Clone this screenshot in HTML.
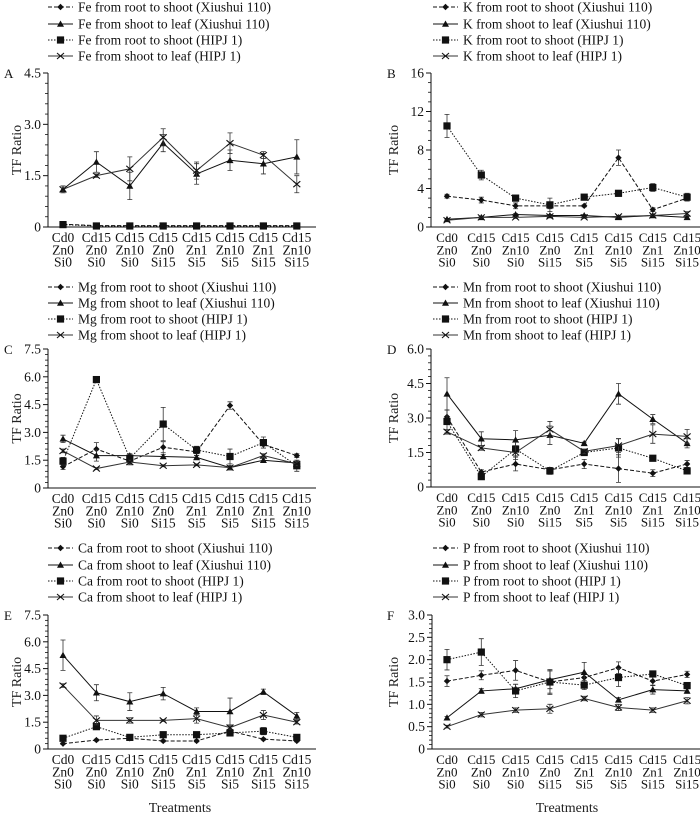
<!DOCTYPE html>
<html><head><meta charset="utf-8"><style>
body{margin:0;background:#fff;}
svg{display:block;font-family:"Liberation Serif",serif;}
</style></head><body>
<svg id="chart" width="700" height="816" viewBox="0 0 700 816"></svg>
<script>
const categories=[["Cd0","Zn0","Si0"],["Cd15","Zn0","Si0"],["Cd15","Zn10","Si0"],["Cd15","Zn0","Si15"],["Cd15","Zn1","Si5"],["Cd15","Zn10","Si5"],["Cd15","Zn1","Si15"],["Cd15","Zn10","Si15"]];
const elements=["Fe","K","Mg","Mn","Ca","P"];
const panelLetters=["A","B","C","D","E","F"];
const ticksA=[0,1.5,3.0,4.5], ticksB=[0,4,8,12,16], ticksC=[0,1.5,3.0,4.5,6.0,7.5], ticksD=[0,1.5,3.0,4.5,6.0], ticksE=[0,1.5,3.0,4.5,6.0,7.5], ticksF=[0,0.5,1.0,1.5,2.0,2.5,3.0];
const tickLabelsA=["0","1.5","3.0","4.5"], tickLabelsB=["0","4","8","12","16"], tickLabelsC=["0","1.5","3.0","4.5","6.0","7.5"], tickLabelsD=["0","1.5","3.0","4.5","6.0"], tickLabelsE=tickLabelsC, tickLabelsF=["0","0.5","1.0","1.5","2.0","2.5","3.0"];
// series: Xiushui root->shoot, Xiushui shoot->leaf, HIPJ root->shoot, HIPJ shoot->leaf
const feXr=[0.08,0.04,0.04,0.04,0.04,0.04,0.04,0.04], feXl=[1.1,1.9,1.2,2.45,1.55,1.95,1.85,2.05], feHr=[0.07,0.03,0.03,0.03,0.03,0.03,0.03,0.03], feHl=[1.1,1.5,1.7,2.62,1.65,2.45,2.1,1.25];
const feXrE=[0.02,0.01,0.01,0.01,0.01,0.01,0.01,0.01], feXlE=[0.1,0.3,0.4,0.25,0.3,0.3,0.3,0.5], feHrE=[0.01,0.01,0.01,0.01,0.01,0.01,0.01,0.01], feHlE=[0.1,0.05,0.35,0.25,0.25,0.3,0.1,0.25];
const kXr=[3.2,2.8,2.2,2.2,2.2,7.2,1.8,3.0], kXl=[0.8,1.0,1.3,1.2,1.2,1.0,1.2,1.0], kHr=[10.5,5.4,3.0,2.3,3.1,3.5,4.1,3.1], kHl=[0.7,1.0,1.0,1.1,1.0,1.1,1.2,1.4];
const kXrE=[0.2,0.3,0.3,0.3,0.1,0.8,0.2,0.3], kXlE=[0.1,0.1,0.1,0.1,0.1,0.1,0.1,0.1], kHrE=[1.2,0.5,0.2,0.7,0.2,0.3,0.4,0.4], kHlE=[0.1,0.1,0.1,0.1,0.1,0.1,0.1,0.2];
const mgXr=[1.15,2.1,1.45,2.2,1.95,4.45,2.35,1.75], mgXl=[2.65,1.75,1.75,1.7,1.65,1.1,1.5,1.35], mgHr=[1.45,5.85,1.6,3.45,2.05,1.7,2.45,1.2], mgHl=[2.0,1.05,1.4,1.2,1.25,1.1,1.75,1.3];
const mgXrE=[0.15,0.35,0.2,0.3,0.2,0.2,0.2,0.1], mgXlE=[0.2,0.3,0.1,0.1,0.1,0.1,0.1,0.1], mgHrE=[0.2,0.15,0.2,0.9,0.2,0.4,0.3,0.3], mgHlE=[0.1,0.05,0.1,0.05,0.05,0.1,0.1,0.1];
const mnXr=[3.05,0.65,1.0,0.75,1.0,0.8,0.6,1.0], mnXl=[4.05,2.1,2.05,2.25,1.9,4.05,2.95,1.9], mnHr=[2.85,0.45,1.65,0.7,1.5,1.7,1.25,0.7], mnHl=[2.4,1.7,1.5,2.5,1.55,1.8,2.3,2.2];
const mnXrE=[0.3,0.1,0.3,0.1,0.2,0.6,0.15,0.15], mnXlE=[0.7,0.3,0.4,0.4,0.05,0.45,0.2,0.2], mnHrE=[0.5,0.1,0.3,0.15,0.1,0.4,0.1,0.05], mnHlE=[0.1,0.1,0.3,0.35,0.1,0.3,0.4,0.3];
const caXr=[0.3,0.5,0.6,0.45,0.45,1.0,0.55,0.45], caXl=[5.25,3.15,2.65,3.1,2.1,2.1,3.2,1.85], caHr=[0.6,1.25,0.65,0.8,0.8,0.9,1.0,0.65], caHl=[3.55,1.6,1.6,1.6,1.7,1.2,1.9,1.5];
const caXrE=[0.05,0.05,0.05,0.05,0.05,0.1,0.05,0.05], caXlE=[0.85,0.45,0.5,0.35,0.2,0.75,0.15,0.2], caHrE=[0.05,0.1,0.05,0.05,0.05,0.1,0.2,0.05], caHlE=[0.1,0.25,0.15,0.05,0.25,0.1,0.25,0.1];
const pXr=[1.52,1.65,1.76,1.5,1.6,1.82,1.52,1.67], pXl=[0.7,1.3,1.35,1.55,1.72,1.1,1.33,1.3], pHr=[2.0,2.17,1.3,1.5,1.43,1.6,1.68,1.42], pHl=[0.5,0.77,0.87,0.9,1.13,0.93,0.87,1.08];
const pXrE=[0.12,0.1,0.22,0.25,0.1,0.13,0.1,0.07], pXlE=[0.03,0.05,0.1,0.2,0.22,0.05,0.1,0.05], pHrE=[0.23,0.3,0.15,0.28,0.1,0.2,0.05,0.05], pHlE=[0.03,0.05,0.05,0.1,0.05,0.07,0.05,0.07];

const NS="http://www.w3.org/2000/svg";
const svg=document.getElementById('chart');
function mk(tag,attrs,parent,text){const e=document.createElementNS(NS,tag);for(const k in attrs)e.setAttribute(k,attrs[k]);if(text!==undefined)e.textContent=text;(parent||svg).appendChild(e);return e;}

const panels=[
 {ox:0,oy:0,ax:48,c0:63,step:33.4,xEnd:316,yTop:73,yBot:227,max:4.5,ticks:ticksA,labels:tickLabelsA,minor:5,s:[feXr,feXl,feHr,feHl],e:[feXrE,feXlE,feHrE,feHlE],leg:[7,24,40,56],lx:48},
 {ox:350,oy:0,ax:431,c0:447,step:34.3,xEnd:700,yTop:73,yBot:227,max:16,ticks:ticksB,labels:tickLabelsB,minor:4,s:[kXr,kXl,kHr,kHl],e:[kXrE,kXlE,kHrE,kHlE],leg:[7,24,40,56],lx:433},
 {ox:0,oy:280,ax:48,c0:63,step:33.4,xEnd:316,yTop:349,yBot:488,max:7.5,ticks:ticksC,labels:tickLabelsC,minor:5,s:[mgXr,mgXl,mgHr,mgHl],e:[mgXrE,mgXlE,mgHrE,mgHlE],leg:[287,303,319,335],lx:48},
 {ox:350,oy:280,ax:431,c0:447,step:34.3,xEnd:700,yTop:349,yBot:487,max:6,ticks:ticksD,labels:tickLabelsD,minor:5,s:[mnXr,mnXl,mnHr,mnHl],e:[mnXrE,mnXlE,mnHrE,mnHlE],leg:[287,303,319,335],lx:433},
 {ox:0,oy:550,ax:48,c0:63,step:33.4,xEnd:316,yTop:615,yBot:749,max:7.5,ticks:ticksE,labels:tickLabelsE,minor:5,s:[caXr,caXl,caHr,caHl],e:[caXrE,caXlE,caHrE,caHlE],leg:[548,565,581,597],lx:48},
 {ox:350,oy:550,ax:432,c0:447,step:34.3,xEnd:700,yTop:615,yBot:749,max:3,ticks:ticksF,labels:tickLabelsF,minor:5,s:[pXr,pXl,pHr,pHl],e:[pXrE,pXlE,pHrE,pHlE],leg:[548,565,581,597],lx:433}
];
const seriesNames=["from root to shoot (Xiushui 110)","from shoot to leaf (Xiushui 110)","from root to shoot (HIPJ 1)","from shoot to leaf (HIPJ 1)"];
const dashes=["4,2","", "1.5,1.5",""];
const markers=["diamond","triangle","square","cross"];
const keys=["xiushui-root-shoot","xiushui-shoot-leaf","hipj-root-shoot","hipj-shoot-leaf"];

function marker(type,x,y,g){
 if(type==="diamond")return mk('path',{d:`M${x} ${y-3.2}L${x+3.2} ${y}L${x} ${y+3.2}L${x-3.2} ${y}Z`,fill:'#111'},g);
 if(type==="triangle")return mk('path',{d:`M${x} ${y-3.5}L${x+3.5} ${y+2.8}L${x-3.5} ${y+2.8}Z`,fill:'#111'},g);
 if(type==="square")return mk('rect',{x:x-3.6,y:y-3.6,width:7.2,height:7.2,fill:'#111'},g);
 return mk('path',{d:`M${x-3.5} ${y-3}L${x+3.5} ${y+3}M${x-3.5} ${y+3}L${x+3.5} ${y-3}`,stroke:'#111','stroke-width':1.1,fill:'none'},g);
}

panels.forEach((p,pi)=>{
 const right=pi%2===1;
 const g=mk('g',{});
 
 
 const yS=v=>p.yBot-(v/p.max)*(p.yBot-p.yTop);
 const xS=i=>p.c0+i*p.step;
 const lg=mk('g',{},g);
 
 
 for(let k=0;k<4;k++){
  const ly=p.leg[k];
  const le=mk('g',{},lg);
  
  
  const ls={x1:p.lx,x2:p.lx+25,y1:ly,y2:ly,stroke:k===3?'#333':'#111','stroke-width':1};
  if(dashes[k])ls['stroke-dasharray']=dashes[k];
  mk('line',ls,le);
  marker(markers[k],p.lx+12.5,ly,le);
  mk('text',{x:p.lx+30,y:ly+4.5,'font-size':13.5,fill:'#111'},le,elements[pi]+' '+seriesNames[k]);
 }
 const pl=mk('text',{x:p.ox+(right?37:4),y:p.yTop+5,'font-size':13,fill:'#111'},g,panelLetters[pi]);
 
 
 const ax=mk('path',{d:`M${p.ax} ${p.yTop}L${p.ax} ${p.yBot}L${p.xEnd} ${p.yBot}`,stroke:'#111','stroke-width':1,fill:'none'},g);
 
 
 for(let t=0;t<p.ticks.length;t++){
  const y=yS(p.ticks[t]);
  mk('line',{x1:p.ax-5,x2:p.ax,y1:y,y2:y,stroke:'#111','stroke-width':1},g);
  const tl=mk('text',{x:p.ax-7,y:y+4.5,'text-anchor':'end','font-size':13.5,fill:'#111'},g,p.labels[t]);
  
  
  if(t<p.ticks.length-1){
   for(let m=1;m<p.minor;m++){
    const v=p.ticks[t]+(p.ticks[t+1]-p.ticks[t])*m/p.minor;
    mk('line',{x1:p.ax-3,x2:p.ax,y1:yS(v),y2:yS(v),stroke:'#111','stroke-width':0.8},g);
   }
  }
 }
 const yt=mk('text',{x:0,y:0,'text-anchor':'middle','font-size':14,fill:'#222',transform:`translate(${p.ox+(right?48:21)},${(p.yTop+p.yBot)/2}) rotate(-90)`},g,'TF Ratio');
 
 
 categories.forEach((c,i)=>{
  const t=mk('text',{x:xS(i),'text-anchor':'middle','font-size':right?13:13.5,fill:'#111'},g);
  
  
  c.forEach((s,j)=>mk('tspan',{x:xS(i),y:p.yBot+15+j*12.3},t,s));
 });
 if(pi>=4){
  const xt=mk('text',{x:pi===4?180:567,y:812,'text-anchor':'middle','font-size':14,fill:'#222'},g,'Treatments');
  
  
 }
 for(let k=0;k<4;k++){
  const sg=mk('g',{},g);
  
  
  const vals=p.s[k], errs=p.e[k];
  const d=vals.map((v,i)=>(i?'L':'M')+xS(i)+' '+yS(v)).join('');
  const la={d:d,fill:'none',stroke:k===3?'#333':'#111','stroke-width':1};
  if(dashes[k])la['stroke-dasharray']=dashes[k];
  mk('path',la,sg);
  vals.forEach((v,i)=>{
   const x=xS(i),y1=yS(v+errs[i]),y2=yS(Math.max(0,v-errs[i]));
   mk('path',{d:`M${x} ${y1}L${x} ${y2}M${x-2.5} ${y1}L${x+2.5} ${y1}M${x-2.5} ${y2}L${x+2.5} ${y2}`,stroke:'#333','stroke-width':0.8,fill:'none'},sg);
   const m=marker(markers[k],x,yS(v),sg);
   
   
  });
 }
});
</script>
</body></html>
